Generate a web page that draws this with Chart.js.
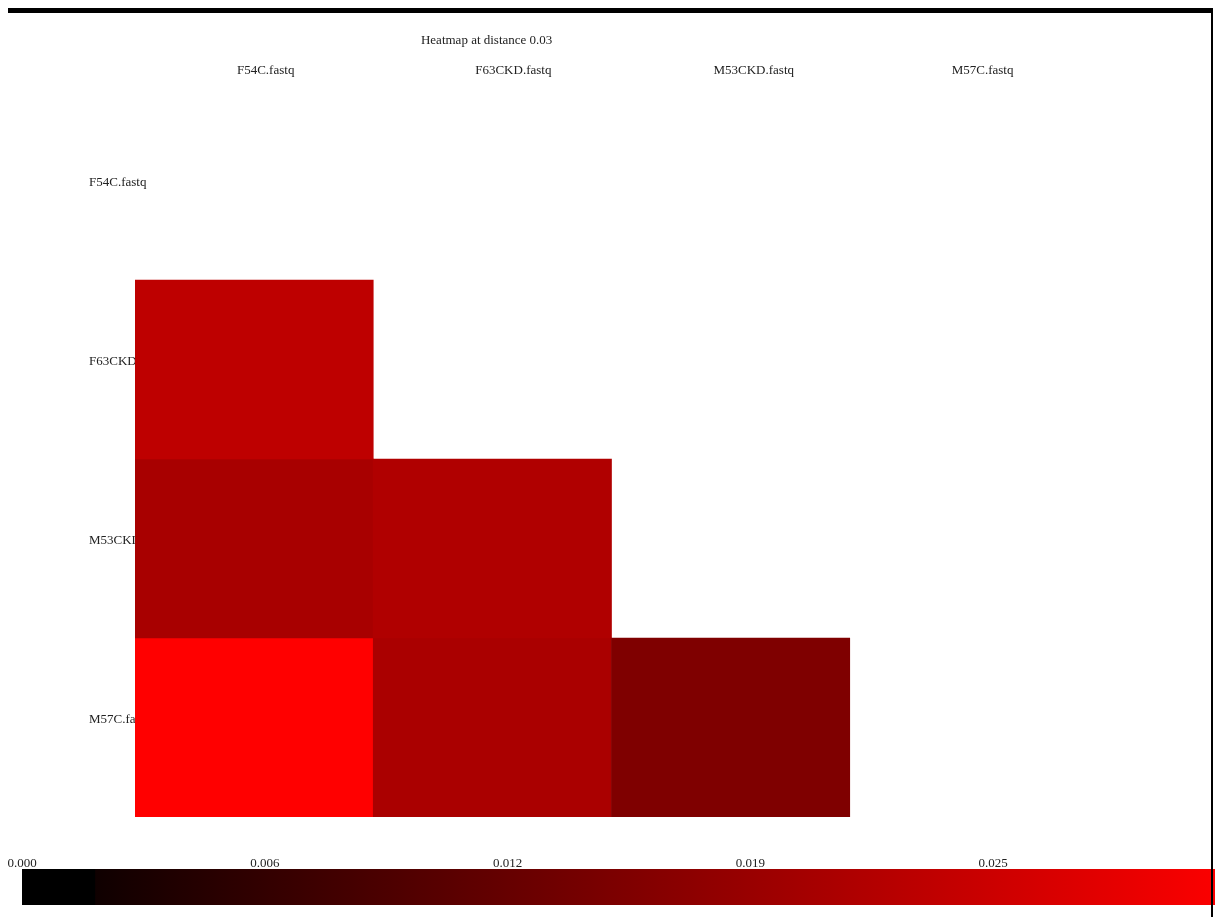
<!DOCTYPE html>
<html>
<head>
<meta charset="utf-8">
<script src="https://cdn.jsdelivr.net/npm/chart.js@4/dist/chart.umd.min.js"></script>
<style>
  html, body { margin: 0; padding: 0; background: #fff; }
  body { width: 1215px; height: 917px; position: relative; overflow: hidden; }
  .frame { position: absolute; left: 8px; top: 8px; width: 1203px; height: 920px; z-index: 2;
           border-top: 5px solid #000; border-right: 2px solid #000; }
  canvas { position: absolute; left: 0; }
  #heat { top: 0; }
  #scale { top: 840px; }
</style>
</head>
<body>
<div class="frame"></div>
<canvas id="heat" width="1215" height="917"></canvas>
<canvas id="scale" width="1240" height="77"></canvas>
<script>
const title = "Heatmap at distance 0.03"
const samples = ["F54C.fastq", "F63CKD.fastq", "M53CKD.fastq", "M57C.fastq"]

// lower triangle of distances, one array per row (column order = samples)
const rowF54C = []
const rowF63CKD = [0.0231]
const rowM53CKD = [0.0204, 0.0214]
const rowM57C = [0.0310, 0.0207, 0.0154]
const rows = [rowF54C, rowF63CKD, rowM53CKD, rowM57C]

const maxDist = 0.031
const blackUpTo = 0.00186
const colorTicks = [0, 0.0062, 0.0124, 0.0186, 0.0248]

const font = "13px 'Liberation Serif', 'Times New Roman', serif"
const textColor = "#222"

function redFor(v) {
  return `rgb(${Math.round(255 * v / maxDist)},0,0)`
}

const datasets = rows.map((vals, r) => ({
  label: samples[r],
  data: samples.map((s, c) => (c < vals.length ? [r, r + 1] : null)),
  backgroundColor: samples.map((s, c) => (c < vals.length ? redFor(vals[c]) : "rgba(0,0,0,0)")),
  borderWidth: 0,
  barPercentage: 1,
  categoryPercentage: 1,
  grouped: false
}))

const heatLabels = {
  id: "heatLabels",
  beforeDatasetsDraw(chart) {
    const { ctx, chartArea, scales } = chart
    const y = scales.y
    ctx.save()
    ctx.font = font
    ctx.fillStyle = textColor
    ctx.textBaseline = "middle"
    ctx.textAlign = "left"
    samples.forEach((s, r) => {
      const top = y.getPixelForValue(r)
      const h = y.getPixelForValue(r + 1) - top
      ctx.fillText(s, chartArea.left - 46, top + h * 0.456)
    })
    ctx.restore()
  },
  afterDraw(chart) {
    const { ctx, chartArea, scales } = chart
    const x = scales.x
    const bandW = chartArea.width / samples.length
    ctx.save()
    ctx.font = font
    ctx.fillStyle = textColor
    ctx.textBaseline = "middle"
    ctx.textAlign = "center"
    ctx.fillText(title, chartArea.left + chartArea.width * 0.369, 41)
    ctx.textAlign = "left"
    samples.forEach((s, c) => {
      const left = x.getPixelForValue(c) - bandW / 2
      ctx.fillText(s, left + bandW * 0.428, 71)
    })
    ctx.restore()
  }
}

new Chart(document.getElementById("heat"), {
  type: "bar",
  data: { labels: samples, datasets },
  options: {
    responsive: false,
    animation: false,
    devicePixelRatio: 1,
    layout: { padding: { left: 135, right: 127, top: 101, bottom: 100 } },
    plugins: { legend: { display: false }, tooltip: { enabled: false } },
    scales: {
      x: { type: "category", display: false },
      y: { type: "linear", min: 0, max: 4, reverse: true, display: false }
    }
  },
  plugins: [heatLabels]
})

const scaleLabels = {
  id: "scaleLabels",
  afterDraw(chart) {
    const { ctx, chartArea, scales } = chart
    ctx.save()
    ctx.font = font
    ctx.fillStyle = textColor
    ctx.textAlign = "center"
    ctx.textBaseline = "middle"
    colorTicks.forEach(t => {
      ctx.fillText(t.toFixed(3), scales.x.getPixelForValue(t), chartArea.top - 5)
    })
    ctx.restore()
  }
}

new Chart(document.getElementById("scale"), {
  type: "bar",
  data: {
    labels: ["scale"],
    datasets: [
      { data: [[0, blackUpTo]], backgroundColor: "#000", grouped: false },
      {
        data: [[blackUpTo, maxDist]],
        grouped: false,
        backgroundColor(ctx) {
          const chart = ctx.chart
          if (!chart.chartArea) return "#f00"
          const x = chart.scales.x
          const g = chart.ctx.createLinearGradient(x.getPixelForValue(blackUpTo), 0, x.getPixelForValue(maxDist), 0)
          g.addColorStop(0, redFor(blackUpTo))
          g.addColorStop(1, redFor(maxDist))
          return g
        }
      }
    ]
  },
  options: {
    indexAxis: "y",
    responsive: false,
    animation: false,
    devicePixelRatio: 1,
    datasets: { bar: { borderWidth: 0, barPercentage: 1, categoryPercentage: 1 } },
    layout: { padding: { left: 22, right: 4, top: 29, bottom: 12 } },
    plugins: { legend: { display: false }, tooltip: { enabled: false } },
    scales: {
      x: { type: "linear", min: 0, max: maxDist, display: false },
      y: { type: "category", display: false }
    }
  },
  plugins: [scaleLabels]
})
</script>
</body>
</html>
